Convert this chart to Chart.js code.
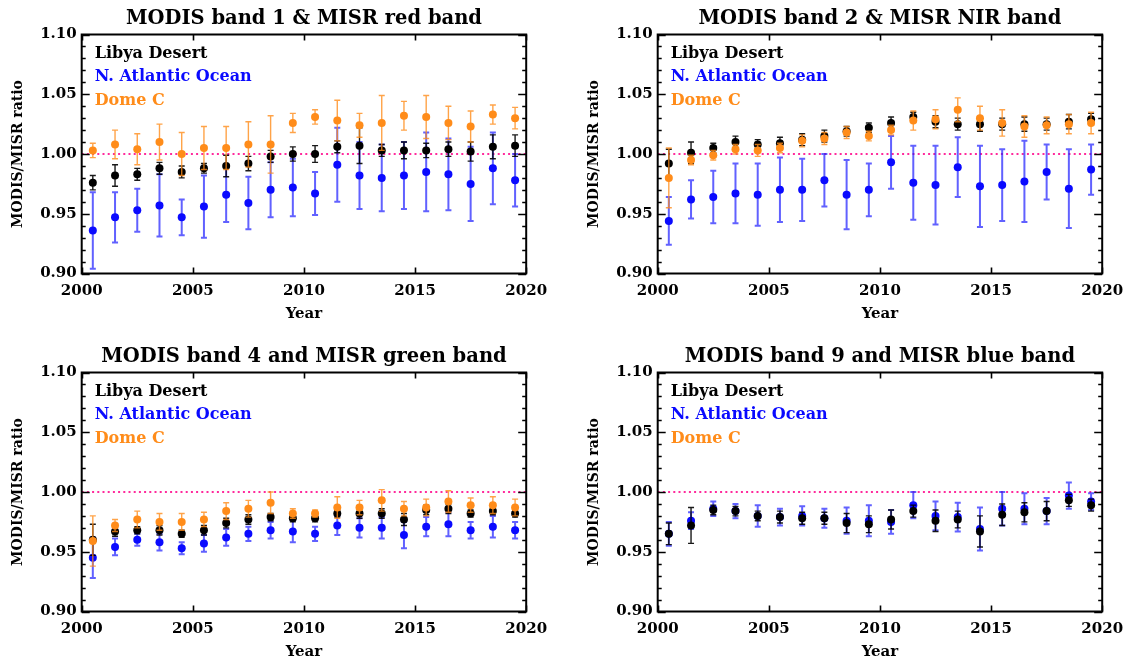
<!DOCTYPE html>
<html><head><meta charset="utf-8">
<script src="https://cdn.jsdelivr.net/npm/chart.js@4.4.0/dist/chart.umd.min.js"></script>
<style>
html,body{margin:0;padding:0;background:#fff;width:1130px;height:660px;overflow:hidden;position:relative}
canvas{position:absolute}
</style></head><body>
<canvas id="c1" width="608" height="322" style="left:0;top:0"></canvas>
<canvas id="c2" width="608" height="322" style="left:576px;top:0"></canvas>
<canvas id="c3" width="608" height="322" style="left:0;top:338px"></canvas>
<canvas id="c4" width="608" height="322" style="left:576px;top:338px"></canvas>
<script>
// ---------- data ----------
const years = [2000.5,2001.5,2002.5,2003.5,2004.5,2005.5,2006.5,2007.5,2008.5,2009.5,2010.5,2011.5,2012.5,2013.5,2014.5,2015.5,2016.5,2017.5,2018.5,2019.5];
const panelTitles = ['MODIS band 1 & MISR red band','MODIS band 2 & MISR NIR band','MODIS band 4 and MISR green band','MODIS band 9 and MISR blue band'];
const seriesNames = ['Libya Desert','N. Atlantic Ocean','Dome C'];
const xTickYears = [2000,2005,2010,2015,2020];
const yTickValues = [0.90,0.95,1.00,1.05,1.10];
const refRatio = [1.00];
const xLabel = 'Year';
const yLabel = 'MODIS/MISR ratio';

// Panel 1: band 1 / red
const p1Libya    = [0.976,0.982,0.983,0.988,0.985,0.988,0.990,0.992,0.998,1.000,1.000,1.006,1.007,1.003,1.003,1.003,1.004,1.002,1.006,1.007];
const p1LibyaErr = [0.006,0.009,0.005,0.005,0.005,0.004,0.009,0.006,0.005,0.006,0.007,0.005,0.015,0.005,0.007,0.006,0.006,0.008,0.010,0.009];
const p1Ocean    = [0.936,0.947,0.953,0.957,0.947,0.956,0.966,0.959,0.970,0.972,0.967,0.991,0.982,0.980,0.982,0.985,0.983,0.975,0.988,0.978];
const p1OceanErr = [0.032,0.021,0.018,0.026,0.015,0.026,0.023,0.022,0.023,0.024,0.018,0.031,0.028,0.028,0.028,0.033,0.030,0.031,0.030,0.022];
const p1Dome     = [1.003,1.008,1.004,1.010,1.000,1.005,1.005,1.008,1.008,1.026,1.031,1.028,1.024,1.026,1.032,1.031,1.026,1.023,1.033,1.030];
const p1DomeErr  = [0.006,0.012,0.013,0.015,0.018,0.018,0.018,0.019,0.024,0.008,0.006,0.017,0.010,0.023,0.012,0.018,0.014,0.013,0.008,0.009];

// Panel 2: band 2 / NIR
const p2Libya    = [0.992,1.001,1.005,1.010,1.008,1.009,1.012,1.015,1.019,1.022,1.026,1.031,1.027,1.025,1.025,1.025,1.025,1.025,1.027,1.029];
const p2LibyaErr = [0.012,0.009,0.004,0.005,0.004,0.005,0.005,0.005,0.004,0.004,0.005,0.004,0.005,0.005,0.006,0.005,0.006,0.005,0.006,0.005];
const p2Ocean    = [0.944,0.962,0.964,0.967,0.966,0.970,0.970,0.978,0.966,0.970,0.993,0.976,0.974,0.989,0.973,0.974,0.977,0.985,0.971,0.987];
const p2OceanErr = [0.020,0.016,0.022,0.025,0.026,0.027,0.026,0.022,0.029,0.022,0.022,0.031,0.033,0.025,0.034,0.030,0.034,0.023,0.033,0.021];
const p2Dome     = [0.980,0.995,0.999,1.004,1.003,1.005,1.011,1.013,1.018,1.015,1.020,1.028,1.029,1.037,1.030,1.026,1.023,1.024,1.025,1.026];
const p2DomeErr  = [0.025,0.004,0.004,0.004,0.005,0.004,0.005,0.005,0.005,0.004,0.004,0.008,0.008,0.010,0.010,0.011,0.009,0.007,0.008,0.009];

// Panel 3: band 4 / green
const p3Libya    = [0.960,0.967,0.968,0.968,0.965,0.968,0.974,0.977,0.979,0.978,0.978,0.982,0.982,0.982,0.977,0.985,0.986,0.982,0.984,0.982];
const p3LibyaErr = [0.013,0.004,0.003,0.004,0.003,0.004,0.004,0.004,0.003,0.003,0.003,0.003,0.004,0.004,0.005,0.004,0.004,0.003,0.003,0.003];
const p3Ocean    = [0.945,0.954,0.960,0.958,0.953,0.957,0.962,0.965,0.968,0.967,0.965,0.972,0.970,0.970,0.964,0.971,0.973,0.968,0.971,0.968];
const p3OceanErr = [0.017,0.007,0.005,0.007,0.005,0.007,0.007,0.006,0.007,0.009,0.006,0.008,0.008,0.009,0.011,0.008,0.010,0.007,0.009,0.007];
const p3Dome     = [0.959,0.972,0.977,0.975,0.975,0.977,0.984,0.986,0.991,0.982,0.982,0.987,0.987,0.993,0.986,0.987,0.992,0.989,0.989,0.987];
const p3DomeErr  = [0.021,0.005,0.007,0.007,0.007,0.006,0.007,0.007,0.009,0.004,0.003,0.009,0.006,0.009,0.006,0.007,0.009,0.006,0.007,0.007];

// Panel 4: band 9 / blue (no Dome C data)
const p4Libya    = [0.965,0.972,0.985,0.984,0.980,0.979,0.978,0.978,0.974,0.973,0.977,0.984,0.976,0.977,0.967,0.981,0.983,0.984,0.993,0.989];
const p4LibyaErr = [0.009,0.015,0.004,0.004,0.004,0.005,0.005,0.005,0.008,0.007,0.008,0.005,0.009,0.007,0.013,0.009,0.008,0.008,0.005,0.005];
const p4Ocean    = [0.965,0.976,0.986,0.984,0.980,0.979,0.980,0.978,0.976,0.976,0.975,0.989,0.980,0.979,0.969,0.986,0.986,0.984,0.997,0.992];
const p4OceanErr = [0.010,0.007,0.006,0.006,0.009,0.007,0.008,0.008,0.011,0.013,0.010,0.011,0.012,0.012,0.018,0.014,0.013,0.011,0.011,0.007];
const p4Dome     = [];
const p4DomeErr  = [];

// ---------- styling ----------
const FONT = "'DejaVu Serif', serif";
const COL = {libya:'#000000', ocean:'#0a0aff', dome:'#ff8c1a', ref:'#ff2a9c'};
const ERRCOL = {libya:'rgba(0,0,0,0.9)', ocean:'rgba(30,30,255,0.7)', dome:'rgba(255,140,26,0.8)'};

function pts(vals){ return vals.map((v,i)=>({x:years[i], y:v})); }

const errorBarPlugin = {
  id:'errorBars',
  beforeDatasetDraw(chart, args){
    const ds = chart.data.datasets[args.index];
    if(!ds.errors) return;
    const ctx = chart.ctx, xs = chart.scales.x, ys = chart.scales.y;
    ctx.save();
    ctx.strokeStyle = ds.errColor; ctx.lineWidth = ds.errWidth;
    ds.data.forEach((p,i)=>{
      const e = ds.errors[i]; if(e==null) return;
      const px = xs.getPixelForValue(p.x);
      const y1 = ys.getPixelForValue(p.y + e), y2 = ys.getPixelForValue(p.y - e);
      ctx.beginPath();
      ctx.moveTo(px, y1); ctx.lineTo(px, y2);
      ctx.moveTo(px-3, y1); ctx.lineTo(px+3, y1);
      ctx.moveTo(px-3, y2); ctx.lineTo(px+3, y2);
      ctx.stroke();
    });
    ctx.restore();
  }
};

const framePlugin = {
  id:'frame',
  afterDraw(chart){
    const ctx = chart.ctx, a = chart.chartArea, xs = chart.scales.x, ys = chart.scales.y;
    ctx.save();
    ctx.strokeStyle = '#000'; ctx.lineWidth = 2;
    ctx.strokeRect(a.left, a.top, a.right-a.left, a.bottom-a.top);
    ctx.lineWidth = 1.6;
    ctx.beginPath();
    // y minor/major ticks, inward on both sides
    for(let k=0;k<=20;k++){
      const v = ys.min + k*(ys.max-ys.min)/20;
      const py = Math.round(ys.getPixelForValue(v))+0.5;
      const len = (k%5===0) ? 8 : 4;
      ctx.moveTo(a.left, py); ctx.lineTo(a.left+len, py);
      ctx.moveTo(a.right, py); ctx.lineTo(a.right-len, py);
    }
    // x major ticks, inward on bottom and top
    xTickYears.forEach(yr=>{
      const px = Math.round(xs.getPixelForValue(yr))+0.5;
      ctx.moveTo(px, a.bottom); ctx.lineTo(px, a.bottom-6);
      ctx.moveTo(px, a.top); ctx.lineTo(px, a.top+6);
    });
    ctx.stroke();
    // legend text inside plot
    ctx.font = "bold 16px " + FONT;
    ctx.textAlign = 'left'; ctx.textBaseline = 'middle';
    const legendItems = chart.data.datasets.filter(d=>d.legendColor);
    legendItems.forEach((d,i)=>{
      ctx.fillStyle = d.legendColor;
      ctx.fillText(d.label, a.left+13, a.top+19+i*23.7);
    });
    ctx.restore();
  }
};

function makeChart(id, title, libya, libyaErr, ocean, oceanErr, dome, domeErr){
  const datasets = [
    {label:'ref', data:[{x:2000,y:refRatio[0]},{x:2020,y:refRatio[0]}], type:'line', showLine:true,
     borderColor:COL.ref, borderWidth:2.2, borderDash:[2,3.2], pointRadius:0, order:3},
    {label:seriesNames[0], data:pts(libya), errors:libyaErr, errColor:ERRCOL.libya, errWidth:1.4,
     backgroundColor:COL.libya, borderWidth:0, pointRadius:4, legendColor:COL.libya, order:1},
    {label:seriesNames[1], data:pts(ocean), errors:oceanErr, errColor:ERRCOL.ocean, errWidth:2,
     backgroundColor:COL.ocean, borderWidth:0, pointRadius:4, legendColor:COL.ocean, order:2},
    {label:seriesNames[2], data:pts(dome), errors:domeErr, errColor:ERRCOL.dome, errWidth:1.4,
     backgroundColor:COL.dome, borderWidth:0, pointRadius:4, legendColor:COL.dome, order:0}
  ];
  return new Chart(document.getElementById(id), {
    type:'scatter',
    data:{datasets},
    options:{
      responsive:false, animation:false, devicePixelRatio:1,
      layout:{padding:{left:0, right:81.8, top:0, bottom:0}},
      plugins:{
        legend:{display:false}, tooltip:{enabled:false},
        title:{display:true, fullSize:false, text:title, color:'#000',
               font:{family:FONT, size:19.5, weight:'bold', lineHeight:1.1},
               padding:{top:8, bottom:5.05}}
      },
      scales:{
        x:{type:'linear', min:2000, max:2020,
           afterBuildTicks(s){ s.ticks = xTickYears.map(v=>({value:v})); },
           ticks:{color:'#000', font:{family:FONT, size:15, weight:'bold'}, padding:9, maxRotation:0, autoSkip:false,
                  callback:v=>String(v)},
           grid:{display:false, drawTicks:false}, border:{display:false},
           title:{display:true, text:xLabel, color:'#000', font:{family:FONT, size:15, weight:'bold', lineHeight:1}, padding:{top:0,bottom:0}},
           afterFit(s){ s.height = 48.5; }},
        y:{type:'linear', min:0.9, max:1.1,
           afterBuildTicks(s){ s.ticks = yTickValues.map(v=>({value:v})); },
           ticks:{color:'#000', font:{family:FONT, size:15, weight:'bold'}, padding:5,
                  callback:v=>Number(v).toFixed(2)},
           grid:{display:false, drawTicks:false}, border:{display:false},
           title:{display:true, text:yLabel, color:'#000', font:{family:FONT, size:14, weight:'bold', lineHeight:1.2}, padding:{top:10,bottom:0}},
           afterFit(s){ s.width = 81.7; }}
      }
    },
    plugins:[errorBarPlugin, framePlugin]
  });
}

makeChart('c1', panelTitles[0], p1Libya, p1LibyaErr, p1Ocean, p1OceanErr, p1Dome, p1DomeErr);
makeChart('c2', panelTitles[1], p2Libya, p2LibyaErr, p2Ocean, p2OceanErr, p2Dome, p2DomeErr);
makeChart('c3', panelTitles[2], p3Libya, p3LibyaErr, p3Ocean, p3OceanErr, p3Dome, p3DomeErr);
makeChart('c4', panelTitles[3], p4Libya, p4LibyaErr, p4Ocean, p4OceanErr, p4Dome, p4DomeErr);
</script>
</body></html>
